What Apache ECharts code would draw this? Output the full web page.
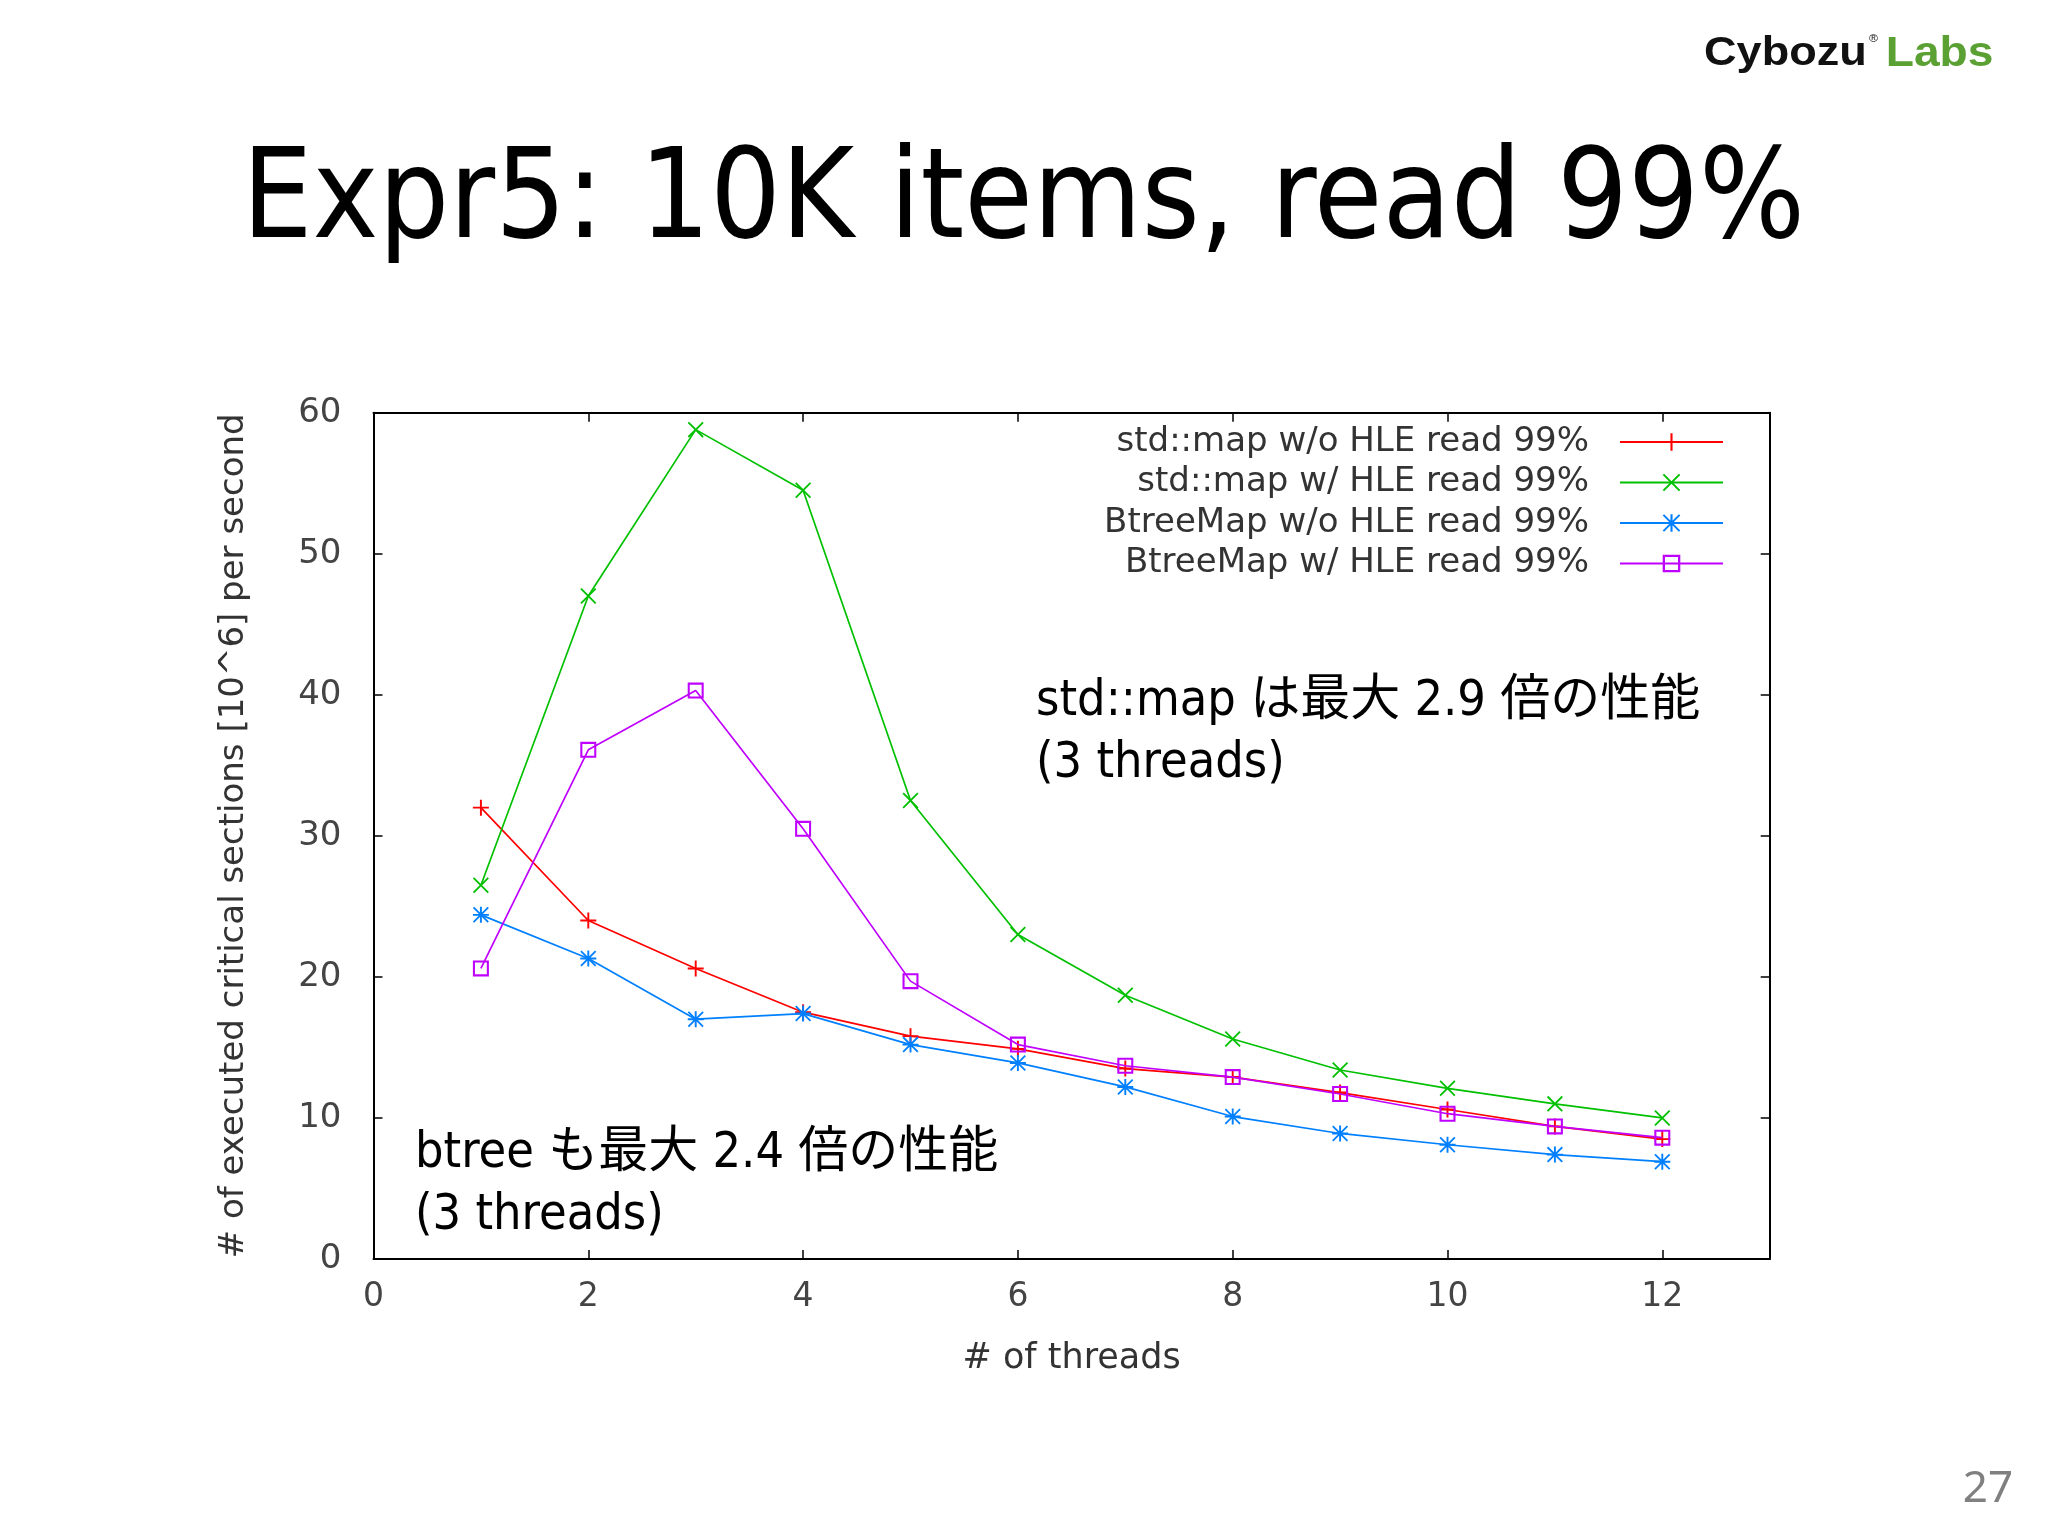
<!DOCTYPE html>
<html>
<head>
<meta charset="utf-8">
<script src="https://cdn.jsdelivr.net/npm/echarts@6/dist/echarts.min.js"></script>
<style>
html,body{margin:0;padding:0;background:#fff;}
#chart{width:2048px;height:1536px;}
</style>
</head>
<body>
<div id="chart"></div>
<script>
const threads = [1, 2, 3, 4, 5, 6, 7, 8, 9, 10, 11, 12];
const stdMapNoHLE = [32.0, 24.0, 20.6, 17.5, 15.8, 14.9, 13.5, 12.9, 11.8, 10.6, 9.4, 8.5];
const stdMapHLE = [26.5, 47.0, 58.8, 54.5, 32.5, 23.0, 18.7, 15.6, 13.4, 12.1, 11.0, 10.0];
const btreeNoHLE = [24.4, 21.3, 17.0, 17.4, 15.2, 13.9, 12.2, 10.1, 8.9, 8.1, 7.4, 6.9];
const btreeHLE = [20.6, 36.1, 40.3, 30.5, 19.7, 15.2, 13.7, 12.9, 11.7, 10.3, 9.4, 8.6];
const seriesNames = ['std::map w/o HLE read 99%', 'std::map w/ HLE read 99%', 'BtreeMap w/o HLE read 99%', 'BtreeMap w/ HLE read 99%'];
const seriesColors = ['#ff0000', '#00c000', '#0080ff', '#c000ff'];
const titleText = 'Expr5: 10K items, read 99%';
const xName = '# of threads';
const yName = '# of executed critical sections [10^6] per second';
const note1 = ['std::map は最大 2.9 倍の性能', '(3 threads)'];
const note2 = ['btree も最大 2.4 倍の性能', '(3 threads)'];
const pageNo = '27';

const SYM_PLUS = 'path://M4.4,0H5.6V10H4.4Z M0,4.4H10V5.6H0Z';
const SYM_CROSS = 'path://M0,0.8L0.8,0L10,9.2L9.2,10Z M9.2,0L10,0.8L0.8,10L0,9.2Z';
const SYM_STAR = 'path://M4.4,0H5.6V10H4.4Z M0,4.4H10V5.6H0Z M0,0.8L0.8,0L10,9.2L9.2,10Z M9.2,0L10,0.8L0.8,10L0,9.2Z';
const SYM_SQUARE = 'path://M0,0H10V10H0Z M1.3,1.3V8.7H8.7V1.3Z';
const symbols = [SYM_PLUS, SYM_CROSS, SYM_STAR, SYM_SQUARE];
const values = [stdMapNoHLE, stdMapHLE, btreeNoHLE, btreeHLE];

const chart = echarts.init(document.getElementById('chart'), null, {renderer: 'canvas'});

const axisFont = 'DejaVu Sans';
const noteFont = '"DejaVu Sans Condensed", "Noto Sans CJK JP", sans-serif';

const series = values.map((vals, i) => ({
  name: seriesNames[i],
  type: 'line',
  data: threads.map((t, k) => [t, vals[k]]),
  symbol: symbols[i],
  symbolSize: 16,
  showSymbol: true,
  color: seriesColors[i],
  itemStyle: {color: seriesColors[i]},
  lineStyle: {color: seriesColors[i], width: 1.7},
  emphasis: {disabled: true},
  z: 2 + i
}));

const option = {
  backgroundColor: '#ffffff',
  animation: false,
  grid: {left: 373.5, right: 278.3, top: 412.7, bottom: 277, containLabel: false},
  legend: {
    data: seriesNames,
    orient: 'vertical',
    align: 'right',
    right: 324,
    top: 425,
    padding: 0,
    itemWidth: 103,
    itemHeight: 22,
    itemGap: 6.5,
    selectedMode: false,
    textStyle: {fontFamily: axisFont, fontSize: 34, color: '#333333', lineHeight: 34, padding: [0, 26, 0, 0]}
  },
  xAxis: [{
    type: 'value', min: 0, max: 13, interval: 2,
    position: 'bottom',
    name: xName, nameLocation: 'middle', nameGap: 82,
    nameTextStyle: {fontFamily: axisFont, fontSize: 35, color: '#333333'},
    axisLine: {show: true, onZero: false, lineStyle: {color: '#000', width: 2}},
    axisTick: {show: true, inside: true, length: 9, lineStyle: {color: '#000', width: 1.5}},
    axisLabel: {fontFamily: axisFont, fontSize: 33, color: '#444444', margin: 22, showMaxLabel: false},
    splitLine: {show: false}
  }, {
    type: 'value', min: 0, max: 13, interval: 2,
    position: 'top',
    axisLine: {show: true, onZero: false, lineStyle: {color: '#000', width: 2}},
    axisTick: {show: true, inside: true, length: 9, lineStyle: {color: '#000', width: 1.5}},
    axisLabel: {show: false},
    splitLine: {show: false}
  }],
  yAxis: [{
    type: 'value', min: 0, max: 60, interval: 10,
    position: 'left',
    name: yName, nameLocation: 'middle', nameGap: 122, nameRotate: 90,
    nameTextStyle: {fontFamily: axisFont, fontSize: 34, color: '#333333'},
    axisLine: {show: true, onZero: false, lineStyle: {color: '#000', width: 2}},
    axisTick: {show: true, inside: true, length: 9, lineStyle: {color: '#000', width: 1.5}},
    axisLabel: {fontFamily: axisFont, fontSize: 34, color: '#444444', margin: 32},
    splitLine: {show: false}
  }, {
    type: 'value', min: 0, max: 60, interval: 10,
    position: 'right',
    axisLine: {show: true, onZero: false, lineStyle: {color: '#000', width: 2}},
    axisTick: {show: true, inside: true, length: 9, lineStyle: {color: '#000', width: 1.5}},
    axisLabel: {show: false},
    splitLine: {show: false}
  }],
  series: series,
  graphic: [
    {type: 'text', left: 242, top: 143, style: {text: titleText, font: '124px "DejaVu Sans Condensed"', fill: '#000'}},
    {type: 'text', x: 1704, y: 54, scaleX: 1.1, style: {
      text: '{c|Cybozu}{r|®}{l|Labs}', textVerticalAlign: 'middle',
      rich: {
        c: {fontFamily: 'Liberation Sans', fontWeight: 'bold', fontSize: 41, fill: '#111111'},
        r: {fontFamily: 'Liberation Sans', fontSize: 11, fill: '#111111', verticalAlign: 'top', padding: [0, 7, 16, 2]},
        l: {fontFamily: 'Liberation Sans', fontWeight: 'bold', fontSize: 42, fill: '#5ba033'}
      }
    }},
    {type: 'text', x: 1036, y: 702, style: {text: note1[0], font: '50px ' + noteFont, fill: '#000', textVerticalAlign: 'middle'}},
    {type: 'text', x: 1036, y: 764, style: {text: note1[1], font: '50px ' + noteFont, fill: '#000', textVerticalAlign: 'middle'}},
    {type: 'text', x: 415, y: 1154, style: {text: note2[0], font: '50px ' + noteFont, fill: '#000', textVerticalAlign: 'middle'}},
    {type: 'text', x: 415, y: 1216, style: {text: note2[1], font: '50px ' + noteFont, fill: '#000', textVerticalAlign: 'middle'}},
    {type: 'text', x: 1988, y: 1489, style: {text: pageNo, font: '44px "Noto Sans"', fill: '#808080', textAlign: 'center', textVerticalAlign: 'middle'}}
  ]
};
chart.setOption(option);
</script>
</body>
</html>
